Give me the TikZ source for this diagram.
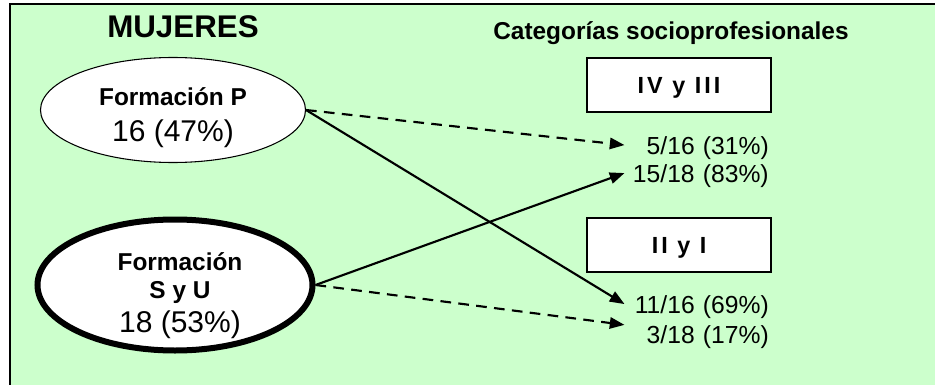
\documentclass[tikz,border=0pt]{standalone}
\usepackage{fontspec}
\setmainfont{Liberation Sans}
\usepackage{tikz}
\usetikzlibrary{shapes.geometric}
\usetikzlibrary{arrows.meta}
\definecolor{fondo}{HTML}{CCFFCC}

\begin{document}
\begin{tikzpicture}[x=0.75pt,y=-0.75pt,
  formacion/.style={ellipse,draw,fill=white,inner sep=0pt},
  categoria/.style={rectangle,draw,line width=1.1pt,fill=white,minimum width=138pt,minimum height=40.5pt,text depth=0pt,font=\bfseries\fontsize{17.5}{20}\selectfont\addfontfeature{LetterSpace=13}},
  cifra/.style={anchor=base east,inner xsep=0pt,inner ysep=0pt,text width=108pt,align=right,text depth=0pt,font=\fontsize{18.5}{22}\selectfont},
  flecha/.style={line width=1.6pt,-{Triangle[length=11pt,width=8.5pt]}},
  rayas/.style={dash pattern=on 8pt off 5.5pt}]
  \useasboundingbox (0,0) rectangle (935,385);
  \draw[fill=fondo,line width=1.1pt] (10,4) rectangle (960,400);
  % titulos
  \node[anchor=base,font=\bfseries\fontsize{23.5}{28}\selectfont] (mujeres) at (183,38) {MUJERES};
  \node[anchor=base,font=\bfseries\fontsize{18.3}{22}\selectfont] (cat) at (671,40) {Categorías socioprofesionales};
  % formacion
  \node[formacion,line width=0.8pt,minimum width=198.75pt,minimum height=78.75pt] (p) at (173,110) {};
  \node[formacion,line width=4.5pt,minimum width=206.25pt,minimum height=98.25pt] (su) at (175,285) {};
  \node[anchor=base,font=\bfseries\fontsize{18.3}{22}\selectfont] (p1) at (173,105) {Formación P};
  \node[anchor=base,font=\fontsize{22.5}{27}\selectfont] (p2) at (173,142) {16 (47\%)};
  \node[anchor=base,font=\bfseries\fontsize{18.3}{22}\selectfont] (su1) at (180,270) {Formación};
  \node[anchor=base,font=\bfseries\fontsize{18.3}{22}\selectfont] (su2) at (180,298) {S y U};
  \node[anchor=base,font=\fontsize{22.5}{27}\selectfont] (su3) at (180,332) {18 (53\%)};
  % categorias
  \node[categoria] (iv) at (679,85) {IV y III};
  \node[categoria] (ii) at (679,245) {II y I};
  \node[cifra] (ivp) at (769,154) {5/16 (31\%)};
  \node[cifra] (ivs) at (769,182) {15/18 (83\%)};
  \node[cifra] (iip) at (769,313) {11/16 (69\%)};
  \node[cifra] (iis) at (769,343) {3/18 (17\%)};
  % flechas
  \draw[flecha,rayas] (p.east) -- (ivp.west);
  \draw[flecha] (p.east) -- (iip.west);
  \draw[flecha] (su.east) -- (ivs.west);
  \draw[flecha,rayas] (su.east) -- (iis.north west);
\end{tikzpicture}
\end{document}
